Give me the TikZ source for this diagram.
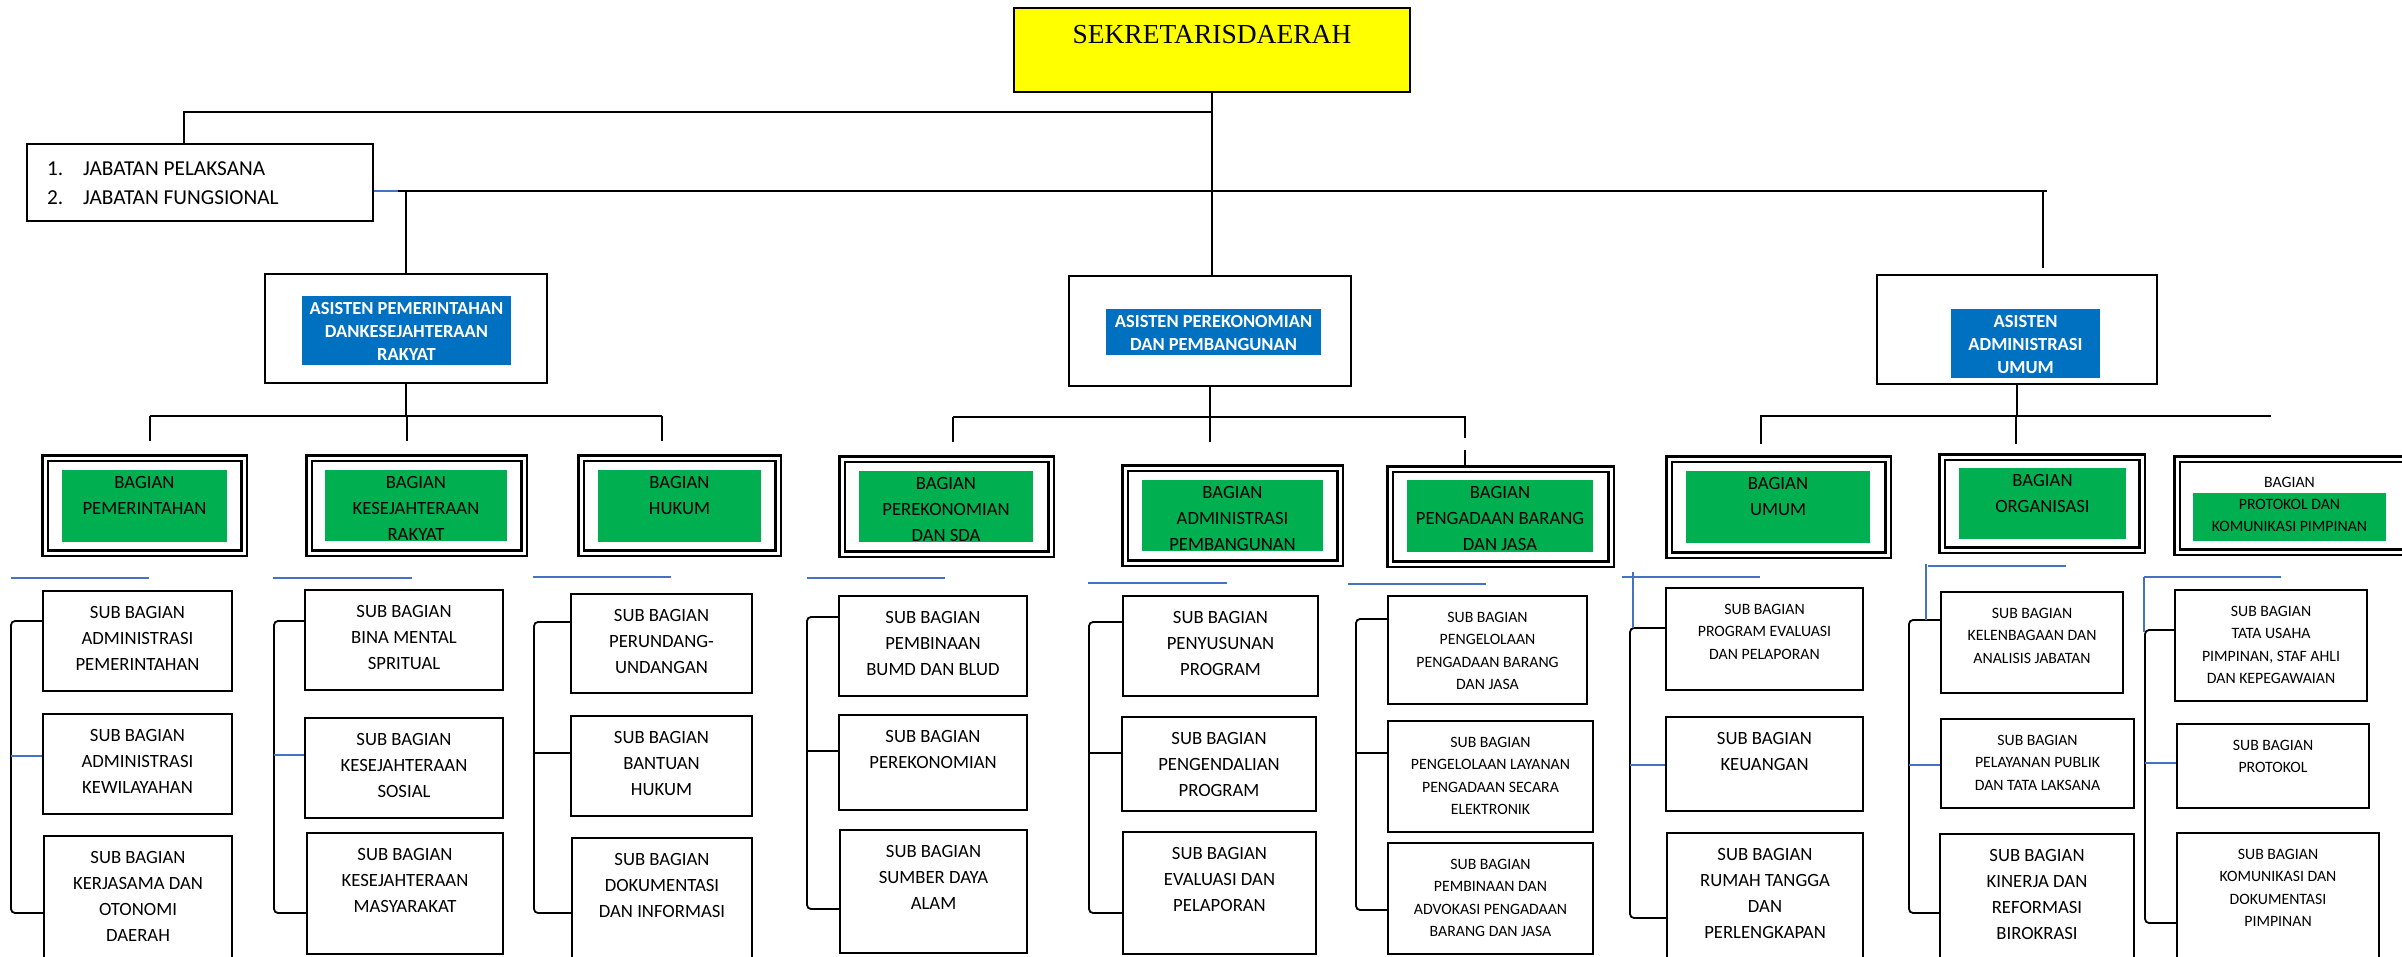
\documentclass[tikz,border=0pt]{standalone}
\usepackage{fontspec}
\setmainfont{Carlito}
\newfontfamily\sekfont{Liberation Serif}
\usetikzlibrary{fit,calc}
\definecolor{ylw}{HTML}{FFFF00}
\definecolor{asblue}{HTML}{0070C0}
\definecolor{bggreen}{HTML}{00B050}
\definecolor{lnblue}{HTML}{4472C4}
\tikzset{
 conn/.style={draw=black, line width=1.8pt},
 connh/.style={draw=black, line width=2pt},
 connb/.style={draw=lnblue, line width=2pt},
 sbox/.style={draw=black, line width=2pt, inner sep=0pt},
 dbox/.style={draw=black, double=white, double distance=3pt, line width=2.5pt, inner sep=0pt},
 gbox/.style={fill=bggreen, draw=none, inner sep=0pt},
 abox/.style={fill=asblue, draw=none, inner sep=0pt},
 stbig/.style={inner sep=0pt, anchor=north, align=center, font=\fontsize{18.7}{26}\selectfont, yshift=-16pt},
 stsmall/.style={inner sep=0pt, anchor=north, align=center, font=\fontsize{15.8}{22.3}\selectfont, yshift=-17pt},
 gtxt/.style={inner sep=0pt, anchor=north, align=center, font=\fontsize{18.7}{26}\selectfont, yshift=-6pt},
 atxt/.style={inner sep=0pt, anchor=north, align=center, text=white, font=\bfseries\fontsize{18.5}{23}\selectfont, yshift=-6pt},
}
\newcommand\sbx[7]{\node[sbox, fit={(#2,#3) (#4,#5)}] (#1) {};
 \node[#6] (#1t) at (#1.north) {#7};}
\newcommand\bgx[5]{\node[dbox, fit={(#2,#3) (#4,#5)}] (#1) {};}
\newcommand\gnx[7]{\node[gbox, fit={(#2,#3) (#4,#5)}] (#1) {};
 \node[#6] (#1t) at (#1.north) {#7};}
\newcommand\brk[9]{%
 \coordinate (#1t) at (#2,#3); \coordinate (#1b) at (#2,#4); \coordinate (#1m) at (#2,#5);
 \draw[conn, rounded corners=4pt] (#11.west |- #1t) -- (#1t) -- (#1b) -- (#13.west |- #1b);
 \draw[#6] (#1m) -- (#12.west |- #1m);
 \coordinate (#1u) at (#8,#7); \coordinate (#1v) at (#9,#7);
 \draw[connb] (#1u) -- (#1v);}
\begin{document}
\begin{tikzpicture}[x=1pt,y=-1pt]
\useasboundingbox (0,0) rectangle (2402,957);
\fill[white] (0,0) rectangle (2402,957);
\clip (0,0) rectangle (2402,957);

% top
\node[draw=black, line width=2.5pt, fill=ylw, inner sep=0pt, fit={(1014,8) (1410,92)}] (sek) {};
\node[inner sep=0pt, anchor=north, font=\sekfont\fontsize{27.5}{30}\selectfont, yshift=-18pt] (sekt) at (sek.north) {SEKRETARISDAERAH};

\node[sbox, fit={(27,144) (373,221)}] (jab) {};
\node[inner sep=0pt, anchor=north west, align=left, font=\fontsize{21.3}{29}\selectfont] (jabt) at (47,161) {\makebox[36pt][l]{1.}JABATAN PELAKSANA\\\makebox[36pt][l]{2.}JABATAN FUNGSIONAL};

% asisten
\node[sbox, fit={(265,274) (547,383)}] (a1) {};
\node[abox, fit={(302,296) (511,365)}] (ab1) {};
\node[atxt] (a1t) at (ab1.north) {ASISTEN PEMERINTAHAN\\DANKESEJAHTERAAN\\RAKYAT};
\node[sbox, fit={(1069,276) (1351,386)}] (a2) {};
\node[abox, fit={(1106,309) (1321,355)}] (ab2) {};
\node[atxt] (a2t) at (ab2.north) {ASISTEN PEREKONOMIAN\\DAN PEMBANGUNAN};
\node[sbox, fit={(1877,275) (2157,384)}] (a3) {};
\node[abox, fit={(1951,309) (2100,378)}] (ab3) {};
\node[atxt] (a3t) at (ab3.north) {ASISTEN\\ADMINISTRASI\\UMUM};

% top connectors
\draw[conn] (sek.south) -- (sek.south |- a2.north);
\coordinate (h1) at (184,112);
\draw[connh] (sek.south |- h1) -- (h1) -- (h1 |- jab.north);
\coordinate (h2L) at (398,191);
\coordinate (h2R) at (2047,191);
\draw[connb] (jab.east |- h2L) -- (h2L);
\draw[connh] (h2L) -- (h2R);
\draw[conn] (a1.north |- h2L) -- (a1.north);
\coordinate (a3e) at (2043,268);
\draw[conn] (a3e |- h2R) -- (a3e);

% bagian boxes
\bgx{b1}{45}{458}{244}{553}
\bgx{b2}{309}{458}{524}{553}
\bgx{b3}{581}{458}{778}{553}
\bgx{b4}{842}{459}{1051}{554}
\bgx{b5}{1125}{468}{1340}{563}
\bgx{b6}{1390}{469}{1611}{564}
\bgx{b7}{1669}{459}{1888}{555}
\bgx{b8}{1942}{457}{2142}{550}
\bgx{b9}{2177}{459}{2430}{552}

\gnx{g1}{62}{470}{227}{542}{gtxt}{BAGIAN\\PEMERINTAHAN}
\gnx{g2}{325}{470}{507}{541}{gtxt}{BAGIAN\\KESEJAHTERAAN\\RAKYAT}
\gnx{g3}{598}{470}{761}{542}{gtxt}{BAGIAN\\HUKUM}
\gnx{g4}{859}{471}{1033}{542}{gtxt}{BAGIAN\\PEREKONOMIAN\\DAN SDA}
\gnx{g5}{1142}{480}{1323}{551}{gtxt}{BAGIAN\\ADMINISTRASI\\PEMBANGUNAN}
\gnx{g6}{1407}{480}{1593}{552}{gtxt}{BAGIAN\\PENGADAAN BARANG\\DAN JASA}
\gnx{g7}{1686}{471}{1870}{543}{gtxt}{BAGIAN\\UMUM}
\gnx{g8}{1959}{468}{2126}{539}{gtxt}{BAGIAN\\ORGANISASI}
\node[gbox, fit={(2193,493) (2386,541)}] (g9) {};
\node[inner sep=0pt, anchor=north, align=center, font=\fontsize{15.8}{22}\selectfont, yshift=16pt] (g9t) at (g9.north) {BAGIAN\\PROTOKOL DAN\\KOMUNIKASI PIMPINAN};

% level-2 connectors
\coordinate (r1L) at (150,416); \coordinate (r1R) at (662,416);
\draw[conn] (a1.south) -- (a1.south |- r1L);
\draw[connh] (r1L) -- (r1R);
\coordinate (t1) at (150,441); \coordinate (t2) at (407,441); \coordinate (t3) at (662,441);
\draw[conn] (t1 |- r1L) -- (t1);
\draw[conn] (t2 |- r1L) -- (t2);
\draw[conn] (t3 |- r1L) -- (t3);

\coordinate (r2L) at (953,417); \coordinate (r2R) at (1466,417);
\draw[conn] (a2.south) -- (a2.south |- r2L);
\draw[connh] (r2L) -- (r2R);
\coordinate (t4) at (953,442); \coordinate (t5) at (1210,442); \coordinate (t6) at (1465,438); \coordinate (t6b) at (1465,450);
\draw[conn] (t4 |- r2L) -- (t4);
\draw[conn] (t5 |- r2L) -- (t5);
\draw[conn] (t6 |- r2L) -- (t6);
\draw[conn] (t6b) -- (t6b |- b6.north);

\coordinate (r3L) at (1760,416); \coordinate (r3R) at (2271,416);
\draw[conn] (a3.south) -- (a3.south |- r3L);
\draw[connh] (r3L) -- (r3R);
\coordinate (t7) at (1761,444); \coordinate (t8) at (2016,444);
\draw[conn] (t7 |- r3L) -- (t7);
\draw[conn] (t8 |- r3L) -- (t8);

% sub bagian
\sbx{s11}{43}{591}{232}{691}{stbig}{SUB BAGIAN\\ADMINISTRASI\\PEMERINTAHAN}
\sbx{s12}{43}{714}{232}{814}{stbig}{SUB BAGIAN\\ADMINISTRASI\\KEWILAYAHAN}
\sbx{s13}{44}{836}{232}{985}{stbig}{SUB BAGIAN\\KERJASAMA DAN\\OTONOMI\\DAERAH}

\sbx{s21}{305}{590}{503}{690}{stbig}{SUB BAGIAN\\BINA MENTAL\\SPRITUAL}
\sbx{s22}{305}{718}{503}{818}{stbig}{SUB BAGIAN\\KESEJAHTERAAN\\SOSIAL}
\sbx{s23}{307}{833}{503}{954}{stbig}{SUB BAGIAN\\KESEJAHTERAAN\\MASYARAKAT}

\sbx{s31}{571}{594}{752}{693}{stbig}{SUB BAGIAN\\PERUNDANG-\\UNDANGAN}
\sbx{s32}{571}{716}{752}{816}{stbig}{SUB BAGIAN\\BANTUAN\\HUKUM}
\sbx{s33}{572}{838}{752}{985}{stbig}{SUB BAGIAN\\DOKUMENTASI\\DAN INFORMASI}

\sbx{s41}{839}{596}{1027}{696}{stbig}{SUB BAGIAN\\PEMBINAAN\\BUMD DAN BLUD}
\sbx{s42}{839}{715}{1027}{810}{stbig}{SUB BAGIAN\\PEREKONOMIAN}
\sbx{s43}{840}{830}{1027}{953}{stbig}{SUB BAGIAN\\SUMBER DAYA\\ALAM}

\sbx{s51}{1123}{596}{1318}{696}{stbig}{SUB BAGIAN\\PENYUSUNAN\\PROGRAM}
\sbx{s52}{1122}{717}{1316}{811}{stbig}{SUB BAGIAN\\PENGENDALIAN\\PROGRAM}
\sbx{s53}{1123}{832}{1316}{954}{stbig}{SUB BAGIAN\\EVALUASI DAN\\PELAPORAN}

\sbx{s61}{1388}{596}{1587}{704}{stsmall}{SUB BAGIAN\\PENGELOLAAN\\PENGADAAN BARANG\\DAN JASA}
\sbx{s62}{1388}{721}{1593}{832}{stsmall}{SUB BAGIAN\\PENGELOLAAN LAYANAN\\PENGADAAN SECARA\\ELEKTRONIK}
\sbx{s63}{1388}{843}{1593}{954}{stsmall}{SUB BAGIAN\\PEMBINAAN DAN\\ADVOKASI PENGADAAN\\BARANG DAN JASA}

\sbx{s71}{1666}{588}{1863}{690}{stsmall}{SUB BAGIAN\\PROGRAM EVALUASI\\DAN PELAPORAN}
\sbx{s72}{1666}{717}{1863}{811}{stbig}{SUB BAGIAN\\KEUANGAN}
\sbx{s73}{1667}{833}{1863}{985}{stbig}{SUB BAGIAN\\RUMAH TANGGA\\DAN\\PERLENGKAPAN}

\sbx{s81}{1941}{592}{2123}{693}{stsmall}{SUB BAGIAN\\KELENBAGAAN DAN\\ANALISIS JABATAN}
\sbx{s82}{1941}{719}{2134}{808}{stsmall}{SUB BAGIAN\\PELAYANAN PUBLIK\\DAN TATA LAKSANA}
\sbx{s83}{1940}{834}{2134}{985}{stbig}{SUB BAGIAN\\KINERJA DAN\\REFORMASI\\BIROKRASI}

\sbx{s91}{2175}{590}{2367}{701}{stsmall}{SUB BAGIAN\\TATA USAHA\\PIMPINAN, STAF AHLI\\DAN KEPEGAWAIAN}
\sbx{s92}{2177}{724}{2369}{808}{stsmall}{SUB BAGIAN\\PROTOKOL}
\sbx{s93}{2177}{833}{2379}{985}{stsmall}{SUB BAGIAN\\KOMUNIKASI DAN\\DOKUMENTASI\\PIMPINAN}

% brackets
\brk{s1}{11}{621}{913}{756}{connb}{578}{11}{149}
\brk{s2}{274}{621}{913}{755}{connb}{578}{273}{412}
\brk{s3}{534}{622}{913}{753}{conn}{577}{533}{671}
\brk{s4}{807}{617}{909}{751}{conn}{578}{807}{945}
\brk{s5}{1089}{622}{913}{753}{conn}{583}{1088}{1227}
\brk{s6}{1356}{619}{910}{753}{conn}{584}{1348}{1486}
\brk{s7}{1630}{628}{918}{765}{connb}{577}{1622}{1760}
\brk{s8}{1909}{620}{913}{765}{connb}{566}{1928}{2066}
\brk{s9}{2145}{630}{923}{763}{connb}{577}{2144}{2281}

\coordinate (v7a) at (1633,572); \coordinate (v7b) at (1633,628);
\draw[connb] (v7a) -- (v7b);
\coordinate (v8a) at (1926,564); \coordinate (v8b) at (1926,620);
\draw[connb] (v8a) -- (v8b);
\coordinate (v9a) at (2144,577); \coordinate (v9b) at (2144,632);
\draw[connb] (v9a) -- (v9b);
\end{tikzpicture}
\end{document}
